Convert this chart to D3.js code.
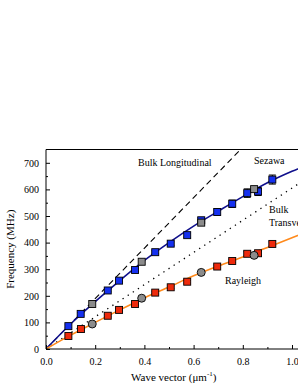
<!DOCTYPE html>
<html>
<head>
<meta charset="utf-8">
<script src="https://cdn.jsdelivr.net/npm/d3@7"></script>
<style>
  body { margin: 0; background: #fff; }
  svg { display: block; font-family: "Liberation Serif", "Times New Roman", serif; }
</style>
</head>
<body>
<div id="chart"></div>
<script>
const sezawaK = [0.091, 0.141, 0.251, 0.297, 0.362, 0.444, 0.507, 0.574, 0.631, 0.696, 0.757, 0.818, 0.862, 0.92];
const sezawaF = [86, 132, 220, 257, 297, 364, 396, 428, 484, 515, 546, 586, 592, 637];
const sezawaErr = [5, 5, 5, 5, 5, 6, 7, 8, 10, 12, 14, 16, 15, 17];

const rayleighK = [0.091, 0.142, 0.251, 0.297, 0.362, 0.444, 0.507, 0.574, 0.696, 0.757, 0.818, 0.862, 0.92];
const rayleighF = [49, 75, 125, 147, 169, 212, 232, 253, 310, 331, 358, 360, 395];
const rayleighErr = [4, 4, 4, 4, 4, 5, 5, 5, 6, 6, 8, 8, 8];

// grey symbols (second data set)
const greyK = [0.188, 0.389, 0.631, 0.846];
const greySqF = [169, 328, 475, 601];
const greyCircF = [94, 191, 288, 352];

// fitted dispersion curves
const fitK = [0, 0.1, 0.2, 0.3, 0.4, 0.5, 0.6, 0.7, 0.8, 0.9, 1.0, 1.1];
const sezawaFit = [0, 94, 178, 257, 333, 400, 462, 518, 573, 625, 668, 705];
const rayleighFit = [0, 52, 100, 147, 192, 233, 275, 312, 346, 382, 418, 455];

// bulk velocity lines (MHz per um^-1)
const bulkK = [0, 1.2];
const longSlope = 948;
const transSlope = 605;

const xTicks = [0, 0.2, 0.4, 0.6, 0.8, 1.0];
const xMinor = [0.1, 0.3, 0.5, 0.7, 0.9];
const yTicks = [0, 100, 200, 300, 400, 500, 600, 700];
const yMinor = [50, 150, 250, 350, 450, 550, 650];

const W = 298, H = 385;
const padL = 46, padT = 149.5, padB = 349;

const svg = d3.select("#chart").append("svg")
  .attr("width", W).attr("height", H);

const x = d3.scaleLinear().domain([0, 1]).range([padL, 292]);
const y = d3.scaleLinear().domain([0, 750]).range([padB, padT]);

svg.append("clipPath").attr("id", "clip")
  .append("rect").attr("x", padL).attr("y", padT).attr("width", W - padL).attr("height", padB - padT);

const plot = svg.append("g").attr("clip-path", "url(#clip)");

const line = d3.line().x(d => x(d[0])).y(d => y(d[1]));
const smooth = d3.line().x(d => x(d[0])).y(d => y(d[1])).curve(d3.curveMonotoneX);

// bulk lines
plot.append("path")
  .attr("d", line(bulkK.map(k => [k, k * longSlope])))
  .attr("fill", "none").attr("stroke", "#000").attr("stroke-width", 1.1)
  .attr("stroke-dasharray", "6,4");

plot.append("path")
  .attr("d", line(bulkK.map(k => [k, k * transSlope])))
  .attr("fill", "none").attr("stroke", "#000").attr("stroke-width", 1.3)
  .attr("stroke-dasharray", "1.3,4.8");

// fits
plot.append("path")
  .attr("d", smooth(fitK.map((k, i) => [k, sezawaFit[i]])))
  .attr("fill", "none").attr("stroke", "#10108c").attr("stroke-width", 1.6);

plot.append("path")
  .attr("d", smooth(fitK.map((k, i) => [k, rayleighFit[i]])))
  .attr("fill", "none").attr("stroke", "#ff8a1c").attr("stroke-width", 1.6);

// error bars
function errBars(ks, fs, es) {
  const g = plot.append("g").attr("stroke", "#000").attr("stroke-width", 1);
  ks.forEach((k, i) => {
    const cx = x(k), y1 = y(fs[i] + es[i]), y2 = y(fs[i] - es[i]);
    g.append("line").attr("x1", cx).attr("x2", cx).attr("y1", y1).attr("y2", y2);
    g.append("line").attr("x1", cx - 3.5).attr("x2", cx + 3.5).attr("y1", y1).attr("y2", y1);
    g.append("line").attr("x1", cx - 3.5).attr("x2", cx + 3.5).attr("y1", y2).attr("y2", y2);
  });
}
errBars(sezawaK, sezawaF, sezawaErr);
errBars(rayleighK, rayleighF, rayleighErr);

function squares(ks, fs, fill, s) {
  plot.append("g").selectAll("rect").data(ks).join("rect")
    .attr("x", d => x(d) - s / 2)
    .attr("y", (d, i) => y(fs[i]) - s / 2)
    .attr("width", s).attr("height", s)
    .attr("fill", fill).attr("stroke", "#000").attr("stroke-width", 0.9);
}
function circles(ks, fs, fill, r) {
  plot.append("g").selectAll("circle").data(ks).join("circle")
    .attr("cx", d => x(d))
    .attr("cy", (d, i) => y(fs[i]))
    .attr("r", r)
    .attr("fill", fill).attr("stroke", "#000").attr("stroke-width", 0.9);
}

squares(rayleighK, rayleighF, "#ee2a0c", 7);
squares(sezawaK, sezawaF, "#1530f0", 7);
squares(greyK, greySqF, "#8c8c8c", 7);
circles(greyK, greyCircF, "#8c8c8c", 4);

// frame: left, bottom, top
svg.append("line").attr("x1", padL).attr("x2", W).attr("y1", padT).attr("y2", padT)
  .attr("stroke", "#000").attr("stroke-width", 1);

const xAxis = svg.append("g").attr("transform", `translate(0,${padB})`)
  .call(d3.axisBottom(x).tickValues(xTicks).tickSize(-4).tickPadding(9).tickFormat(d3.format(".1f")));
svg.append("g").attr("transform", `translate(0,${padB})`)
  .call(d3.axisBottom(x).tickValues(xMinor).tickSize(-2).tickFormat(""))
  .select(".domain").remove();
xAxis.select(".domain").attr("d", `M${padL},0H${W}`);

const yAxis = svg.append("g").attr("transform", `translate(${padL},0)`)
  .call(d3.axisLeft(y).tickValues(yTicks).tickSize(-4).tickPadding(7));
svg.append("g").attr("transform", `translate(${padL},0)`)
  .call(d3.axisLeft(y).tickValues(yMinor).tickSize(-2).tickFormat(""))
  .select(".domain").remove();
yAxis.select(".domain").attr("d", `M0,${padT}V${padB}`);

svg.selectAll(".tick text").attr("font-family", "Liberation Serif").attr("font-size", 10).attr("fill", "#000");

// axis titles
svg.append("text")
  .attr("transform", `translate(14,${(padT + padB) / 2}) rotate(-90)`)
  .attr("text-anchor", "middle").attr("font-size", 11)
  .text("Frequency (MHz)");

const xt = svg.append("text").attr("x", 131).attr("y", 381).attr("font-size", 11);
xt.append("tspan").text("Wave vector  (\u03bcm");
xt.append("tspan").attr("font-size", 7).attr("dy", -5).text("-1");
xt.append("tspan").attr("dy", 5).text(")");

// curve labels
const labels = [
  { t: "Bulk Longitudinal", x: 138, y: 166 },
  { t: "Sezawa", x: 254, y: 164 },
  { t: "Bulk", x: 269, y: 213 },
  { t: "Transverse", x: 269, y: 226 },
  { t: "Rayleigh", x: 225, y: 284 }
];
svg.append("g").selectAll("text").data(labels).join("text")
  .attr("x", d => d.x).attr("y", d => d.y)
  .attr("font-size", 10)
  .text(d => d.t);
</script>
</body>
</html>
